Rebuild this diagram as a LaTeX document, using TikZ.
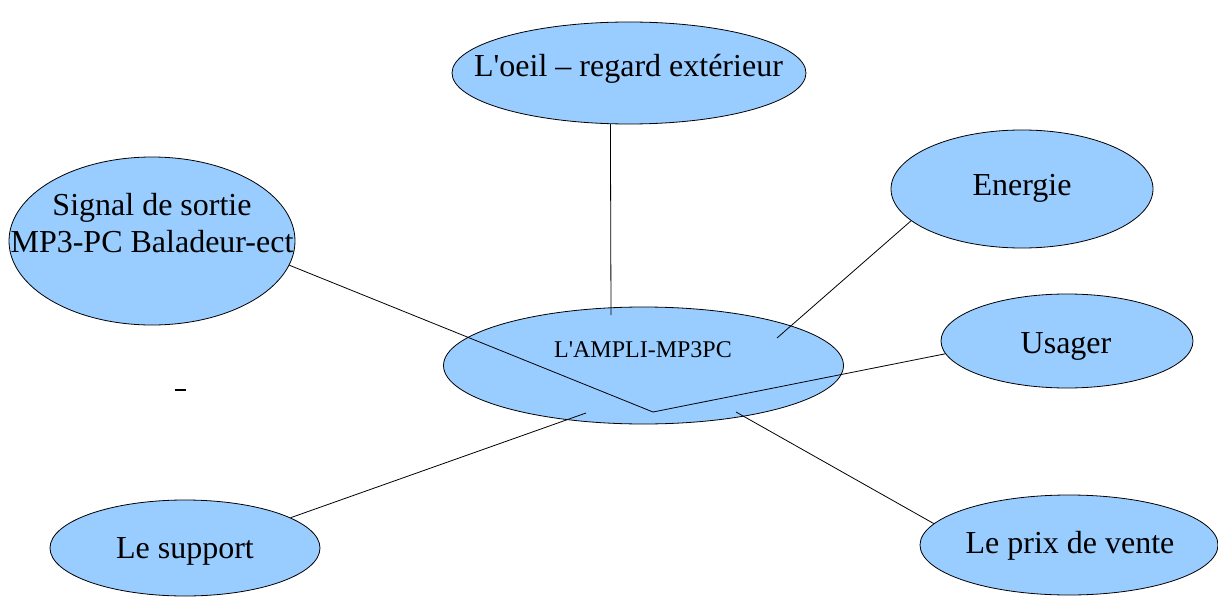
\documentclass[tikz,border=0pt]{standalone}
\usepackage{fontspec}
\setmainfont{Liberation Serif}
\usetikzlibrary{shapes.geometric}
\definecolor{bubble}{HTML}{99CCFF}
\tikzset{
  bub/.style={ellipse, draw=black, fill=bubble, line width=0.8pt, inner sep=0pt},
  lbl/.style={anchor=base, inner sep=0pt, font=\fontsize{32}{37}\selectfont},
  conn/.style={draw=black, line width=0.8pt}
}
\begin{document}
\begin{tikzpicture}[x=1pt,y=-1pt]
\useasboundingbox (0,0) rectangle (1218,599);
% ellipses
\node[bub, minimum width=354pt, minimum height=102pt] (eye) at (629,73) {};
\node[bub, minimum width=262pt, minimum height=118pt] (energy) at (1022,189) {};
\node[bub, minimum width=286pt, minimum height=168pt] (sig) at (152,241) {};
\node[bub, minimum width=252pt, minimum height=94pt] (usager) at (1067,341) {};
\node[bub, minimum width=270pt, minimum height=96pt] (support) at (185,548) {};
\node[bub, minimum width=298pt, minimum height=100pt] (prix) at (1069,545) {};
\node[bub, minimum width=400pt, minimum height=117pt] (ampli) at (643.5,365.5) {};
% labels
\node[lbl] (eyet) at (628.5,77) {L\textquotesingle oeil -- regard extérieur};
\node[lbl] (energyt) at (1022,195) {Energie};
\node[lbl] (sigt1) at (152,215) {Signal de sortie};
\node[lbl] (sigt2) at (152,252) {MP3-PC Baladeur-ect};
\node[lbl] (usagert) at (1066,353) {Usager};
\node[lbl] (supportt) at (185,558) {Le support};
\node[lbl] (prixt) at (1070,553) {Le prix de vente};
\node[anchor=base, inner sep=0pt, font=\fontsize{24}{28}\selectfont] (amplit) at (643,357) {L\textquotesingle AMPLI-MP3PC};
% connector ends
\coordinate (eyeend) at (611,315);
\coordinate (enend) at (777,338);
\coordinate (vtx) at (653,412);
\coordinate (supend) at (586,413);
\coordinate (prixend) at (736,412);
% connectors
\draw[conn] (eye.250.6) -- (eyeend);
\draw[conn] (energy.196.5) -- (enend);
\draw[conn] (sig.-10.8) -- (vtx) -- (usager.186);
\draw[conn] (support.16) -- (supend);
\draw[conn] (prix.171) -- (prixend);
% small dash
\coordinate (da) at (175,390);
\coordinate (db) at (186,390);
\draw[line width=1.2pt] (da) -- (db);
\end{tikzpicture}
\end{document}
